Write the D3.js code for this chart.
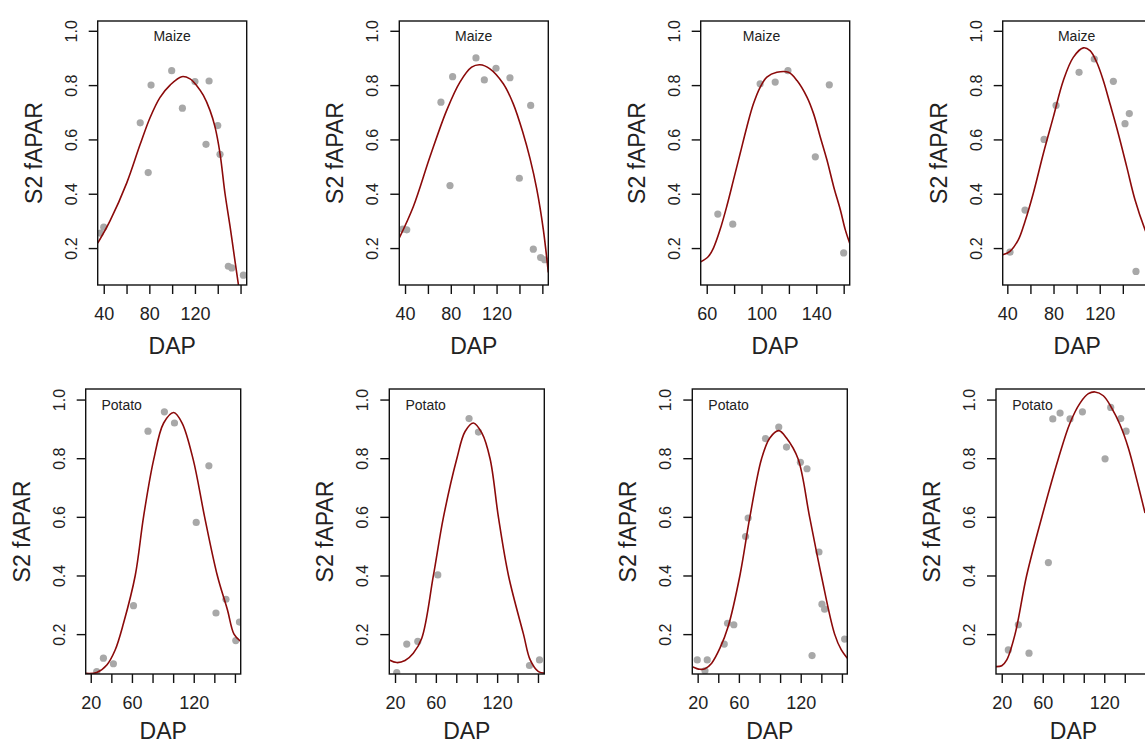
<!DOCTYPE html>
<html>
<head>
<meta charset="utf-8">
<script src="https://cdn.jsdelivr.net/npm/d3@7"></script>
<style>
  body { margin: 0; background: #fff; }
  svg text { font-family: "Liberation Sans", Arial, sans-serif; fill: #222; }
</style>
</head>
<body>
<div id="chart"></div>
<script>
// observed S2 fAPAR: [DAP, value]
var maize1Obs = [[37,0.255],[40,0.277],[72,0.661],[79,0.478],[81.5,0.80],[99.6,0.853],[109,0.715],[120,0.813],[129.7,0.582],[132.4,0.815],[140,0.651],[142,0.545],[149.3,0.133],[152.3,0.127],[162.5,0.10]];
var maize2Obs = [[38,0.27],[41.5,0.267],[71.4,0.737],[79.3,0.43],[81.6,0.831],[102,0.90],[109.3,0.819],[119.5,0.862],[131.7,0.827],[139.9,0.457],[149.8,0.725],[152.1,0.196],[158.5,0.165],[162,0.157]];
var maize3Obs = [[68.1,0.325],[79,0.288],[99,0.805],[110,0.811],[119.3,0.853],[139.3,0.536],[149.5,0.801],[160,0.182]];
var maize4Obs = [[42.3,0.185],[55.3,0.34],[71.8,0.60],[82.2,0.725],[102.1,0.847],[115.3,0.896],[131.8,0.814],[141.9,0.658],[145.6,0.695],[151.4,0.114]];
var potato1Obs = [[25.8,0.072],[32.3,0.118],[42,0.099],[61.5,0.297],[75.6,0.892],[91.5,0.958],[101.3,0.92],[122.4,0.581],[134.7,0.774],[141.6,0.272],[151.3,0.319],[160.8,0.178],[164.4,0.241]];
var potato2Obs = [[21.7,0.069],[31.5,0.166],[42.3,0.175],[61.9,0.402],[92.5,0.935],[101.7,0.889],[151.7,0.093],[161.5,0.112]];
var potato3Obs = [[19.6,0.112],[27.1,0.075],[29.3,0.112],[45.8,0.166],[49,0.237],[55.1,0.232],[66.5,0.533],[69,0.596],[85.8,0.867],[98.7,0.906],[106.2,0.838],[119.7,0.786],[126.1,0.764],[131,0.127],[137.7,0.48],[140.6,0.302],[143.2,0.285],[162.6,0.183]];
var potato4Obs = [[26.4,0.146],[36.2,0.232],[46.6,0.135],[65.5,0.444],[69.8,0.934],[76.9,0.954],[86.6,0.934],[98.7,0.958],[120.8,0.798],[126.3,0.973],[136.1,0.935],[141.3,0.892]];

// fitted curves: [DAP, value]
var maize1Fit = [[34.7,0.218],[45.5,0.30],[60.2,0.44],[71.8,0.58],[80.6,0.68],[89.4,0.755],[98.2,0.80],[108.4,0.831],[115.7,0.823],[121.6,0.798],[127.4,0.762],[133.2,0.707],[137.6,0.646],[142,0.548],[146.4,0.40],[150.8,0.28],[155.2,0.15],[158.1,0.066],[160,0.01]];
var maize2Fit = [[35,0.237],[47.3,0.353],[61.8,0.536],[76.4,0.707],[88,0.811],[98.2,0.866],[105.5,0.875],[114.2,0.86],[125.9,0.805],[134.6,0.731],[143.3,0.621],[149.2,0.53],[155,0.42],[160.8,0.27],[165.2,0.11]];
var maize3Fit = [[55.6,0.149],[61.2,0.169],[64.9,0.20],[69.7,0.267],[74.6,0.353],[79.5,0.45],[84.4,0.548],[89.3,0.646],[94.1,0.731],[99,0.792],[103.9,0.829],[111.2,0.847],[119.7,0.847],[125.9,0.817],[133.2,0.756],[138,0.695],[142.9,0.609],[147.8,0.524],[152.7,0.426],[157.6,0.34],[161.2,0.267],[164.4,0.218]];
var maize4Fit = [[36,0.175],[42.3,0.188],[49.5,0.23],[55.3,0.298],[62.5,0.402],[71.2,0.548],[79.8,0.682],[88.5,0.817],[97.1,0.902],[105.8,0.937],[111.6,0.927],[117.4,0.884],[123.1,0.817],[128.9,0.731],[136.1,0.621],[143.4,0.499],[150.6,0.377],[159.3,0.267],[166,0.2]];
var potato1Fit = [[15.1,0.066],[25.8,0.069],[35.6,0.095],[43.7,0.146],[51.8,0.237],[63.2,0.40],[71.3,0.601],[81.1,0.795],[90.8,0.92],[100.6,0.956],[108.7,0.92],[119.5,0.795],[130.5,0.601],[142.9,0.40],[152.7,0.283],[159.1,0.20],[165.6,0.175]];
var potato2Fit = [[14.4,0.112],[21.7,0.103],[29.8,0.11],[37.9,0.135],[46.2,0.186],[57.6,0.40],[67.4,0.598],[80.5,0.798],[88.6,0.891],[96.8,0.92],[105,0.886],[113.1,0.798],[121.3,0.598],[131.1,0.40],[145.8,0.20],[152.4,0.112],[160.5,0.072],[166.1,0.067]];
var potato3Fit = [[14.8,0.089],[22.2,0.08],[27.1,0.082],[33.6,0.101],[41.6,0.152],[49.6,0.226],[61,0.40],[70.6,0.598],[82,0.798],[90,0.869],[98.7,0.894],[106.2,0.869],[117.4,0.798],[128.7,0.598],[140,0.40],[152.9,0.20],[159.4,0.146],[165.2,0.118]];
var potato4Fit = [[14.4,0.089],[20,0.092],[24.9,0.112],[33,0.20],[44.3,0.40],[59,0.598],[75.2,0.798],[86.6,0.92],[96.4,0.988],[104.5,1.02],[111,1.026],[119.1,1.013],[127.3,0.971],[135.4,0.914],[143.5,0.835],[151.7,0.727],[159.8,0.613]];

// axis ticks and labels
var yTicks = [0.2, 0.4, 0.6, 0.8, 1.0];
var maizeTicks = [40, 60, 80, 100, 120, 140, 160];
var maizeLabels = [40, 80, 120];
var maize3Ticks = [60, 80, 100, 120, 140, 160];
var maize3Labels = [60, 100, 140];
var potatoTicks = [20, 40, 60, 80, 100, 120, 140, 160];
var potatoLabels = [20, 60, 120];

var panels = [
  {crop: "Maize",  obs: maize1Obs,  fit: maize1Fit,  xlim: [34.7, 165.4], ticks: maizeTicks,  labels: maizeLabels,  at: 100},
  {crop: "Maize",  obs: maize2Obs,  fit: maize2Fit,  xlim: [35.0, 165.2], ticks: maizeTicks,  labels: maizeLabels,  at: 100},
  {crop: "Maize",  obs: maize3Obs,  fit: maize3Fit,  xlim: [55.6, 164.4], ticks: maize3Ticks, labels: maize3Labels, at: 100},
  {crop: "Maize",  obs: maize4Obs,  fit: maize4Fit,  xlim: [36.0, 165.0], ticks: maizeTicks,  labels: maizeLabels,  at: 100},
  {crop: "Potato", obs: potato1Obs, fit: potato1Fit, xlim: [15.1, 165.6], ticks: potatoTicks, labels: potatoLabels, at: 50},
  {crop: "Potato", obs: potato2Obs, fit: potato2Fit, xlim: [14.4, 166.2], ticks: potatoTicks, labels: potatoLabels, at: 50},
  {crop: "Potato", obs: potato3Obs, fit: potato3Fit, xlim: [14.8, 165.2], ticks: potatoTicks, labels: potatoLabels, at: 50},
  {crop: "Potato", obs: potato4Obs, fit: potato4Fit, xlim: [14.4, 165.6], ticks: potatoTicks, labels: potatoLabels, at: 50}
];

// plot boxes (pixel layout of the two rows)
var rows = [
  {top: 21,  bottom: 285, lefts: [97.7, 399.3, 700.7, 1002.7], width: 149, titleGap: 69},
  {top: 389, bottom: 674, lefts: [85.7, 389.3, 692.3, 996],    width: 155, titleGap: 65}
];

var svg = d3.select("#chart").append("svg")
    .attr("width", 1145)
    .attr("height", 745);

panels.forEach(function(p, i) {
  var row = rows[Math.floor(i / 4)];
  var left = row.lefts[i % 4];
  var w = row.width;
  var h = row.bottom - row.top;

  var x = d3.scaleLinear().domain(p.xlim).range([0, w]);
  var y = d3.scaleLinear().domain([0.064, 1.036]).range([h, 0]);

  var g = svg.append("g")
      .attr("transform", "translate(" + left + "," + row.top + ")");

  var clipId = "clip" + i;
  g.append("clipPath").attr("id", clipId)
    .append("rect").attr("width", w).attr("height", h);

  var inner = g.append("g").attr("clip-path", "url(#" + clipId + ")");

  inner.selectAll(".pt")
    .data(p.obs)
  .enter()
    .append("circle")
    .attr("class", "pt")
    .attr("cx", function(d) { return x(d[0]); })
    .attr("cy", function(d) { return y(d[1]); })
    .attr("r", 3.6)
    .attr("fill", "#a8a8a8");

  var line = d3.line()
      .x(function(d) { return x(d[0]); })
      .y(function(d) { return y(d[1]); })
      .curve(d3.curveCatmullRom);

  inner.append("path")
    .datum(p.fit)
    .attr("d", line)
    .attr("fill", "none")
    .attr("stroke", "#8b0a0a")
    .attr("stroke-width", 1.6);

  g.append("text")
    .attr("x", x(p.at))
    .attr("y", y(0.98))
    .attr("dy", "0.35em")
    .style("text-anchor", "middle")
    .style("font-size", "14px")
    .text(p.crop);

  // x axis
  var xa = g.append("g")
      .attr("transform", "translate(0," + h + ")")
      .call(d3.axisBottom(x)
        .tickValues(p.ticks)
        .tickSize(9)
        .tickFormat(function(d) { return p.labels.indexOf(d) >= 0 ? d : ""; }));
  xa.select(".domain").remove();
  xa.selectAll("line").attr("stroke", "#111").attr("stroke-width", 1.4);
  xa.selectAll("text")
    .attr("y", 35).attr("dy", 0)
    .style("font-size", "18px")
    .style("font-family", "'Liberation Sans', Arial, sans-serif")
    .attr("fill", "#222");

  // y axis
  var ya = g.append("g")
      .call(d3.axisLeft(y)
        .tickValues(yTicks)
        .tickSize(9)
        .tickFormat(d3.format(".1f")));
  ya.select(".domain").remove();
  ya.selectAll("line").attr("stroke", "#111").attr("stroke-width", 1.4);
  ya.selectAll("text")
    .attr("x", 0).attr("dy", 0)
    .attr("transform", "translate(-21,0) rotate(-90)")
    .style("text-anchor", "middle")
    .style("font-size", "16px")
    .style("font-family", "'Liberation Sans', Arial, sans-serif")
    .attr("fill", "#222");

  g.append("rect")
    .attr("width", w)
    .attr("height", h)
    .attr("fill", "none")
    .attr("stroke", "#111")
    .attr("stroke-width", 1.4);

  g.append("text")
    .attr("x", w / 2)
    .attr("y", h + row.titleGap)
    .style("text-anchor", "middle")
    .style("font-size", "23px")
    .text("DAP");

  g.append("text")
    .attr("transform", "translate(-56," + (h / 2) + ") rotate(-90)")
    .style("text-anchor", "middle")
    .style("font-size", "23px")
    .text("S2 fAPAR");
});
</script>
</body>
</html>
